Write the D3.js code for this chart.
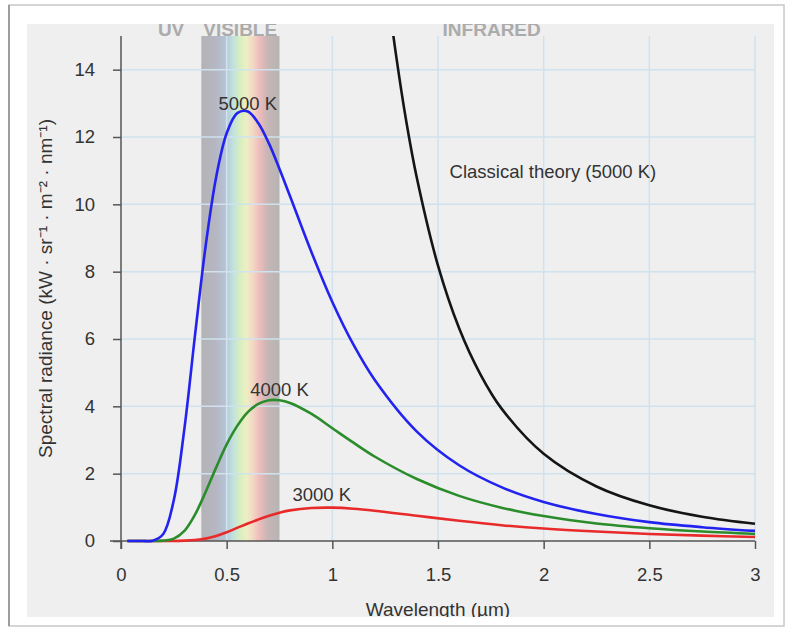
<!DOCTYPE html>
<meta charset="utf-8">
<style>
body { margin: 0; background: #fff; }
text { font-family: "Liberation Sans", Arial, sans-serif; }
</style>
<body>
<script src="https://cdnjs.cloudflare.com/ajax/libs/d3/7.8.5/d3.min.js"></script>
<script>

// wavelengths (um) and spectral radiance
var wavelengths = [0.03, 0.1, 0.15, 0.2, 0.25, 0.3, 0.35, 0.4, 0.45, 0.5, 0.55, 0.6, 0.65, 0.7, 0.75,
                   0.8, 0.9, 1.0, 1.1, 1.2, 1.4, 1.6, 1.8, 2.0, 2.25, 2.5, 2.75, 3.0];
var t5000 = [0, 0, 0.01, 0.21, 1.22, 3.34, 6.1, 8.74, 10.8, 12.11, 12.71, 12.76, 12.41, 11.81, 11.05,
             10.24, 8.6, 7.1, 5.83, 4.79, 3.25, 2.25, 1.6, 1.16, 0.8, 0.56, 0.41, 0.3];
var t4000 = [0, 0, 0, 0.01, 0.07, 0.3, 0.78, 1.45, 2.18, 2.87, 3.42, 3.83, 4.07, 4.18, 4.18,
             4.1, 3.78, 3.35, 2.92, 2.51, 1.84, 1.34, 0.99, 0.74, 0.52, 0.38, 0.28, 0.21];
var t3000 = [0, 0, 0, 0, 0, 0.01, 0.03, 0.07, 0.15, 0.26, 0.39, 0.52, 0.64, 0.75, 0.84,
             0.91, 0.98, 0.99, 0.96, 0.9, 0.75, 0.6, 0.47, 0.37, 0.28, 0.21, 0.16, 0.12];

var classicalWl = [1.26, 1.3, 1.35, 1.4, 1.5, 1.6, 1.7, 1.8, 2.0, 2.25, 2.5, 2.75, 3.0];
var classical   = [16.4, 14.5, 12.46, 10.78, 8.18, 6.32, 4.96, 3.94, 2.59, 1.62, 1.06, 0.72, 0.51];

var xTicks = [0, 0.5, 1, 1.5, 2, 2.5, 3];
var yTicks = [0, 2, 4, 6, 8, 10, 12, 14];

var series = [
  {name: "5000 K", values: t5000, color: "#2323f0", lx: 0.6, ly: 12.8},
  {name: "4000 K", values: t4000, color: "#2a8c2a", lx: 0.75, ly: 4.3},
  {name: "3000 K", values: t3000, color: "#e82a2a", lx: 0.95, ly: 1.18}
];

// visible band and its spectrum
var visible = [0.38, 0.75];
var spectrum = [
  ["0%", "#b3b3b5"], ["18%", "#b6b6c2"], ["30%", "#b5c2d4"], ["40%", "#bfe0de"],
  ["50%", "#d8efbf"], ["58%", "#eeeec4"], ["66%", "#f2d8c4"], ["74%", "#f0bcbc"],
  ["84%", "#c8b6b6"], ["100%", "#b6b4b4"]
];

var width = 790, height = 631;
var margin = {left: 121, right: 35, top: 36, bottom: 90};
var fs = 18.5;

var svg = d3.select("body").append("svg")
    .attr("width", width)
    .attr("height", height);

// frame and panel
svg.append("rect")
    .attr("x", 9).attr("y", 5).attr("width", 775).attr("height", 621)
    .attr("fill", "#fff").attr("stroke", "#c8c8c8").attr("stroke-width", 1.5);
svg.append("line")
    .attr("x1", 9).attr("x2", 9).attr("y1", 5).attr("y2", 626)
    .attr("stroke", "#8a8a8a").attr("stroke-width", 1.5);

var defs = svg.append("defs");
defs.append("clipPath").attr("id", "panel")
  .append("rect").attr("x", 27).attr("y", 24).attr("width", 747).attr("height", 593);

var g0 = svg.append("g").attr("clip-path", "url(#panel)");
g0.append("rect")
    .attr("x", 27).attr("y", 24).attr("width", 747).attr("height", 593)
    .attr("fill", "#efefef");

var x = d3.scaleLinear().domain([0, 3]).range([margin.left, width - margin.right]);
var y = d3.scaleLinear().domain([0, 15]).range([height - margin.bottom, margin.top]);

// visible band
var grad = defs.append("linearGradient").attr("id", "spec");
grad.selectAll("stop").data(spectrum).enter().append("stop")
    .attr("offset", function(d) { return d[0]; })
    .attr("stop-color", function(d) { return d[1]; });

g0.append("rect")
    .attr("x", x(visible[0]))
    .attr("y", y(15))
    .attr("width", x(visible[1]) - x(visible[0]))
    .attr("height", y(0) - y(15))
    .attr("fill", "url(#spec)");

// grid
g0.selectAll(".gx").data(xTicks.slice(1)).enter().append("line")
    .attr("x1", x).attr("x2", x)
    .attr("y1", y(15)).attr("y2", y(0))
    .attr("stroke", "#cfe2ee").attr("stroke-width", 1.5);
g0.selectAll(".gy").data(yTicks.slice(1)).enter().append("line")
    .attr("x1", x(0)).attr("x2", x(3))
    .attr("y1", y).attr("y2", y)
    .attr("stroke", "#cfe2ee").attr("stroke-width", 1.5);

// region labels
var regions = [["UV", 0.237], ["VISIBLE", 0.564], ["INFRARED", 1.754]];
g0.selectAll(".reg").data(regions).enter().append("text")
    .attr("x", function(d) { return x(d[1]); })
    .attr("y", 36)
    .attr("text-anchor", "middle")
    .attr("font-size", 19).attr("font-weight", "bold")
    .attr("fill", "#ababab")
    .text(function(d) { return d[0]; });

// axes
var xAxis = g0.append("g")
    .attr("transform", "translate(0," + y(0) + ")")
    .call(d3.axisBottom(x).tickValues(xTicks).tickSize(8).tickPadding(19)
      .tickFormat(function(d) { return d; }));
var yAxis = g0.append("g")
    .attr("transform", "translate(" + x(0) + ",0)")
    .call(d3.axisLeft(y).tickValues(yTicks).tickSize(8).tickPadding(18));

[xAxis, yAxis].forEach(function(a) {
  a.select(".domain").remove();
  a.selectAll("line").attr("stroke", "#555").attr("stroke-width", 1.5);
  a.selectAll("text").attr("font-size", fs).attr("fill", "#333")
    .attr("font-family", "\"Liberation Sans\", Arial, sans-serif");
});
g0.append("line")
    .attr("x1", x(0) - 11).attr("x2", x(3))
    .attr("y1", y(0)).attr("y2", y(0))
    .attr("stroke", "#555").attr("stroke-width", 1.5);
g0.append("line")
    .attr("x1", x(0)).attr("x2", x(0))
    .attr("y1", y(15)).attr("y2", y(0) + 8)
    .attr("stroke", "#555").attr("stroke-width", 1.5);

// curves
defs.append("clipPath").attr("id", "plot")
  .append("rect").attr("x", x(0)).attr("y", y(15))
  .attr("width", x(3) - x(0) + 1).attr("height", y(0) - y(15) + 3);

var line = d3.line()
    .x(function(d) { return x(d[0]); })
    .y(function(d) { return y(d[1]); })
    .curve(d3.curveCatmullRom.alpha(0.5));

var plot = g0.append("g").attr("clip-path", "url(#plot)");

plot.append("path")
    .datum(d3.zip(classicalWl, classical))
    .attr("d", line)
    .attr("fill", "none").attr("stroke", "#151515").attr("stroke-width", 2.6);

series.slice().reverse().forEach(function(s) {
  plot.append("path")
      .datum(d3.zip(wavelengths, s.values))
      .attr("d", line)
      .attr("fill", "none").attr("stroke", s.color).attr("stroke-width", 2.6);
});

// curve labels
g0.selectAll(".lab").data(series).enter().append("text")
    .attr("x", function(d) { return x(d.lx); })
    .attr("y", function(d) { return y(d.ly); })
    .attr("text-anchor", "middle")
    .attr("font-size", fs).attr("fill", "#333")
    .text(function(d) { return d.name; });

g0.append("text")
    .attr("x", x(1.555)).attr("y", y(10.77))
    .attr("font-size", fs).attr("fill", "#333")
    .text("Classical theory (5000 K)");

// axis titles
g0.append("text")
    .attr("transform", "translate(52," + (y(7.5)) + ") rotate(-90)")
    .attr("text-anchor", "middle")
    .attr("font-size", 19).attr("fill", "#333")
    .text("Spectral radiance (kW \u00b7 sr\u207b\u00b9 \u00b7 m\u207b\u00b2 \u00b7 nm\u207b\u00b9)");

g0.append("text")
    .attr("x", x(1.5)).attr("y", 616)
    .attr("text-anchor", "middle")
    .attr("font-size", 19).attr("fill", "#333")
    .text("Wavelength (\u00b5m)");

</script>
